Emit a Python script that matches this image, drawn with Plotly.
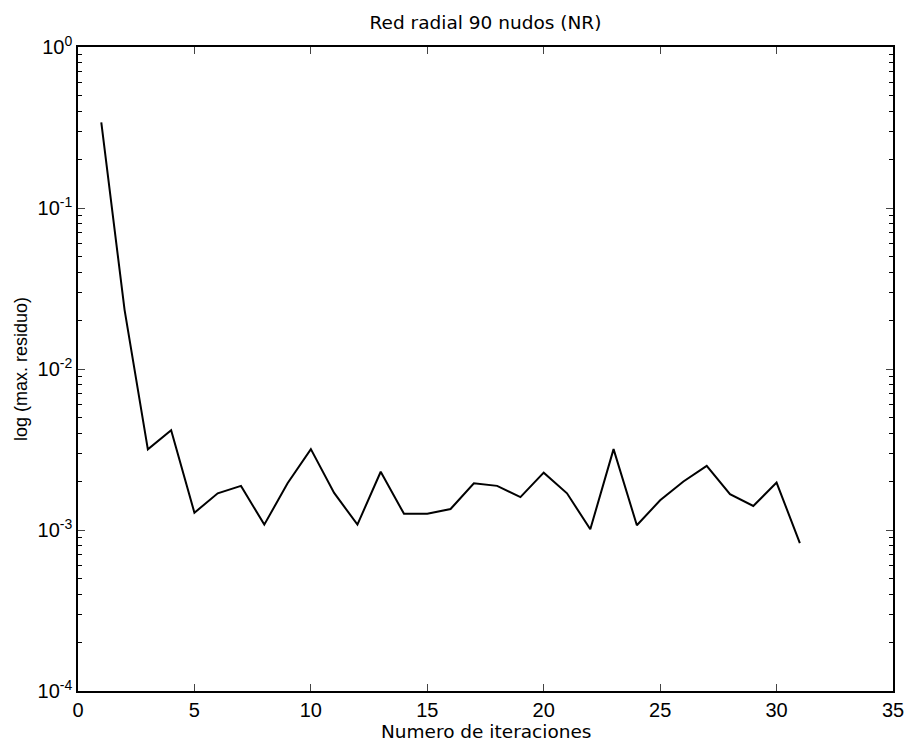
import plotly.graph_objects as go

iteraciones = list(range(1, 32))
max_residuo = [0.34, 0.0233, 0.00317, 0.00416, 0.00128, 0.00169, 0.00188, 0.00108,
               0.00195, 0.00318, 0.0017, 0.00108, 0.0023, 0.00126, 0.00126, 0.00135,
               0.00195, 0.00188, 0.0016, 0.00227, 0.00169, 0.00101, 0.00318, 0.00107,
               0.00153, 0.002, 0.0025, 0.00167, 0.00141, 0.00197, 0.00083]

x_ticks = [0, 5, 10, 15, 20, 25, 30, 35]
y_ticks = [1e-4, 1e-3, 1e-2, 1e-1, 1]
y_ticktext = ["10<sup>-4</sup>", "10<sup>-3</sup>", "10<sup>-2</sup>", "10<sup>-1</sup>", "10<sup>0</sup>"]

minor_vals = [m * 10 ** e for e in range(-4, 0) for m in range(2, 10)]

fig = go.Figure()
fig.add_trace(go.Scatter(x=iteraciones, y=max_residuo, mode="lines",
                         line=dict(color="black", width=2), showlegend=False))

lib = "Liberation Sans, Arial, sans-serif"
dej = "DejaVu Sans, sans-serif"
fig.update_layout(
    width=916, height=747,
    margin=dict(l=78, r=18, t=47, b=56),
    paper_bgcolor="white", plot_bgcolor="white",
    font=dict(family=lib, color="black", size=18),
    title=dict(text="Red radial 90 nudos (NR)", x=0.5, xref="paper", xanchor="center",
               y=1 - 23 / 747, yref="container", yanchor="middle",
               font=dict(size=18.5, family=dej, color="black")),
    xaxis=dict(range=[0, 35], tickvals=x_ticks, ticks="inside", ticklen=7,
               showline=True, linecolor="black", linewidth=1.5, mirror="ticks",
               showgrid=False, zeroline=False, tickfont=dict(size=20)),
    yaxis=dict(type="log", range=[-4, 0], tickvals=y_ticks, ticktext=y_ticktext,
               ticks="inside", ticklen=7, showline=True, linecolor="black",
               linewidth=1.5, mirror="ticks", showgrid=False, zeroline=False,
               tickfont=dict(size=20),
               minor=dict(tickvals=minor_vals, ticks="inside", ticklen=4,
                          tickcolor="black", showgrid=False)),
    annotations=[
        dict(text="Numero de iteraciones", xref="paper", yref="paper", x=0.5, y=0,
             xanchor="center", yanchor="middle", yshift=-40, showarrow=False,
             font=dict(size=18.5, family=dej, color="black")),
        dict(text="log (max. residuo)", xref="paper", yref="paper", x=0, y=0.5,
             xanchor="center", yanchor="middle", xshift=-57, textangle=-90,
             showarrow=False, font=dict(size=18, family=lib, color="black")),
    ],
)

fig.write_html("out.html")
